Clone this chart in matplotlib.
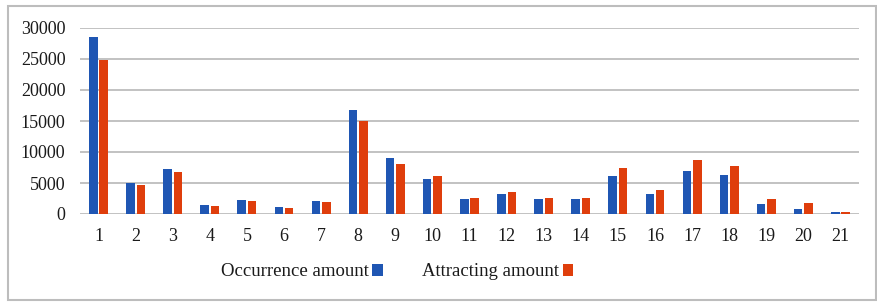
import matplotlib
matplotlib.use("Agg")
import matplotlib.pyplot as plt
import numpy as np
from matplotlib.patches import Rectangle

categories = [str(i) for i in range(1, 22)]
occurrence = [28600, 5000, 7260, 1500, 2260, 1180, 2100, 16720, 8980, 5590, 2370,
              3170, 2370, 2370, 6070, 3170, 6990, 6240, 1670, 750, 400]
attracting = [24800, 4680, 6720, 1340, 2150, 1020, 1980, 15050, 8060, 6070, 2530,
              3490, 2530, 2530, 7420, 3920, 8660, 7740, 2420, 1700, 400]
yticks = [0, 5000, 10000, 15000, 20000, 25000, 30000]

blue = "#1f56b3"
orange = "#df3e0c"

plt.rcParams['font.family'] = ['Liberation Serif', 'DejaVu Serif']

W, H = 877, 303
fig = plt.figure(figsize=(W / 100, H / 100), dpi=100)
ax = fig.add_axes([80 / W, (H - 214) / H, (859 - 80) / W, (214 - 28) / H])

x = np.arange(len(categories))
bw = 0.23
ax.bar(x - bw / 2 - 0.025, occurrence, width=bw, color=blue, label="Occurrence amount", zorder=3)
ax.bar(x + bw / 2 + 0.025, attracting, width=bw, color=orange, label="Attracting amount", zorder=3)

ax.set_xlim(-0.5, len(categories) - 0.5)
ax.set_ylim(0, 30000)
ax.set_yticks(yticks)
ax.set_yticklabels([str(v) for v in yticks])
ax.set_xticks(x)
ax.set_xticklabels(categories)
ax.tick_params(axis='both', length=0, labelsize=13, colors='#1a1a1a')
ax.tick_params(axis='y', pad=10.5)
ax.tick_params(axis='x', pad=10)
ax.grid(axis='y', color='#bdbdbd', linewidth=1.3, zorder=0)
ax.set_axisbelow(True)
for s in ax.spines.values():
    s.set_visible(False)

leg = fig.legend(loc='center', bbox_to_anchor=(397 / W, (H - 272) / H), ncol=2,
                 frameon=False, markerfirst=False, handlelength=0.55, handleheight=0.55,
                 handletextpad=0.2, columnspacing=2.1, fontsize=13.5)
for t in leg.get_texts():
    t.set_color('#1a1a1a')

fig.patches.append(Rectangle((8 / W, 3 / H), 868 / W, 294 / H, transform=fig.transFigure,
                             fill=False, edgecolor='#bdbdbd', linewidth=1.5))

fig.savefig("out.png", dpi=100)
